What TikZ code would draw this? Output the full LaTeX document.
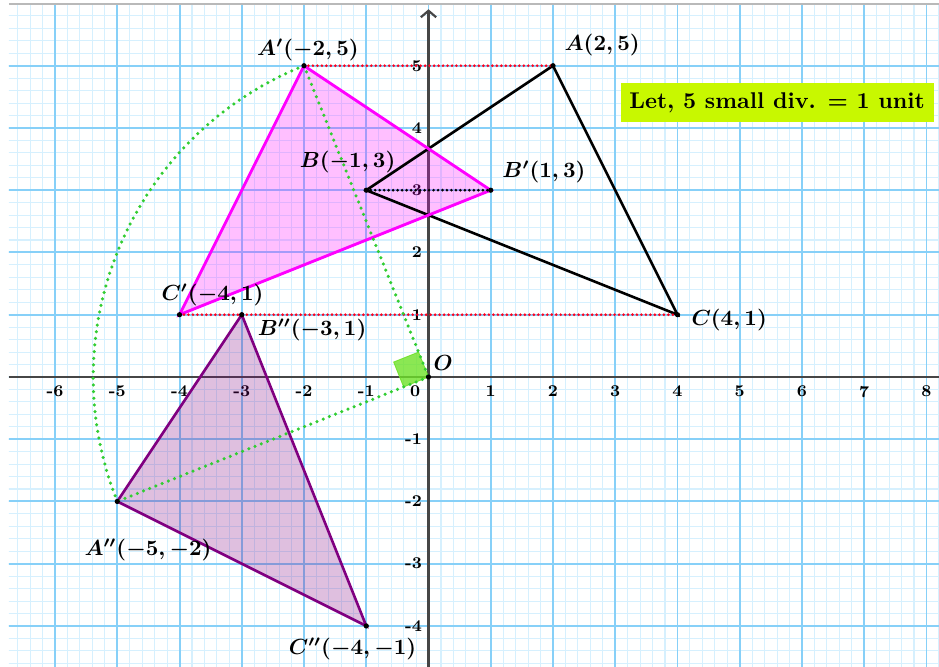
\documentclass[tikz,border=0pt]{standalone}
\usetikzlibrary{arrows.meta,calc}
\definecolor{minorc}{RGB}{214,240,254}
\definecolor{majorc}{RGB}{135,208,248}
\definecolor{axisc}{RGB}{70,70,70}
\definecolor{dotgreen}{RGB}{50,205,50}
\definecolor{sqgreen}{RGB}{110,225,40}
\definecolor{boxc}{RGB}{200,248,0}
\definecolor{dotred}{RGB}{255,0,30}
\definecolor{mymagenta}{RGB}{255,0,255}
\definecolor{mypurple}{RGB}{128,0,128}
\tikzset{
  lbl/.style={font=\fontsize{10.1}{12}\selectfont\boldmath, inner sep=0pt},
  ticklbl/.style={font=\fontsize{7.5}{8}\selectfont\bfseries, inner sep=0pt, text=black},
  dotr/.style={dotred, line width=1.35pt, line cap=round, dash pattern=on 0pt off 2.05pt},
  dotk/.style={black, line width=1.35pt, line cap=round, dash pattern=on 0pt off 2.05pt},
  dotg/.style={dotgreen, line width=1.6pt, line cap=round, dash pattern=on 0pt off 3.05pt},
  vdot/.style={fill=black},
  notebox/.style={fill=boxc, font=\fontsize{10.4}{12}\selectfont\bfseries, minimum width=5.03cm, minimum height=0.63cm, inner sep=0pt}
}
\begin{document}
\begin{tikzpicture}[x=1cm,y=1cm]
\useasboundingbox (-6.884,-4.659) rectangle (8.201,6.056);
% grid
\begin{scope}
\clip (-6.74,-4.7) rectangle (8.25,5.987);
\draw[minorc, line width=0.5pt] (-7,-5) grid[step=0.2] (8.4,6.2);
\draw[majorc, line width=0.9pt] (-7,-5) grid[step=1] (8.4,6.2);
\end{scope}
\draw[gray!55, line width=0.8pt] (-6.74,5.987) -- (8.25,5.987);
% tick labels
\foreach \i in {-6,...,-1} \node[ticklbl] at (\i,-0.235) {\i};
\foreach \i in {1,...,8} \node[ticklbl] at (\i,-0.235) {\i};
\node[ticklbl] at (-0.215,-0.225) {0};
\foreach \j in {-4,...,-1} \node[ticklbl, anchor=east] at (-0.1,\j) {\j};
\foreach \j in {1,...,5} \node[ticklbl, anchor=east] at (-0.1,\j) {\j};
% coordinates
\coordinate (O) at (0,0);
\coordinate (xL) at (-6.74,0);
\coordinate (xR) at (8.25,0);
\coordinate (yB) at (0,-4.7);
\coordinate (yT) at (0,5.907);
\coordinate (A) at (2,5);
\coordinate (B) at (-1,3);
\coordinate (C) at (4,1);
\coordinate (Ap) at (-2,5);
\coordinate (Bp) at (1,3);
\coordinate (Cp) at (-4,1);
\coordinate (App) at (-5,-2);
\coordinate (Bpp) at (-3,1);
\coordinate (Cpp) at (-1,-4);
% axes
\draw[axisc, line width=1pt] (xL) -- (xR);
\draw[axisc, line width=1pt, -{Straight Barb[length=3pt,width=7pt]}] (yB) -- (yT);
% fills
\fill[mymagenta, opacity=0.25] (Ap) -- (Bp) -- (Cp) -- cycle;
\fill[mypurple, opacity=0.25] (App) -- (Bpp) -- (Cpp) -- cycle;
% right angle marker
\filldraw[sqgreen, fill opacity=0.8, draw opacity=0.9, line width=0.4pt, rotate=111.8] (O) rectangle (0.43,0.43);
% triangles
\draw[black, line width=1.2pt] (A) -- (B) -- (C) -- cycle;
\draw[mymagenta, line width=1.3pt] (Ap) -- (Bp) -- (Cp) -- cycle;
\draw[mypurple, line width=1.2pt] (App) -- (Bpp) -- (Cpp) -- cycle;
% dotted guides
\draw[dotr] (Ap) -- (A);
\draw[dotr] (Cp) -- (C);
\draw[dotk] (B) -- (Bp);
\draw[dotg] (Ap) -- (O);
\draw[dotg] (O) -- (App);
\draw[dotg] (Ap) arc[start angle=111.8014, end angle=201.8014, radius=5.38516];
% vertex dots
\foreach \p in {A,B,C,Ap,Bp,Cp,App,Bpp,Cpp,O} \fill[vdot] (\p) circle (1.2pt);
% labels
\node[lbl] (lA) at (2.79,5.33) {$A(2,5)$};
\node[lbl] (lAp) at (-1.936,5.25) {$A'(-2,5)$};
\node[lbl] (lB) at (-1.30,3.45) {$B(-1,3)$};
\node[lbl] (lBp) at (1.855,3.29) {$B'(1,3)$};
\node[lbl] (lC) at (4.83,0.916) {$C(4,1)$};
\node[lbl] (lCp) at (-3.47,1.317) {$C'(-4,1)$};
\node[lbl] (lBpp) at (-1.87,0.755) {$B''(-3,1)$};
\node[lbl] (lApp) at (-4.506,-2.78) {$A''(-5,-2)$};
\node[lbl] (lCpp) at (-1.22,-4.37) {$C''(-4,-1)$};
\node[lbl] (lO) at (0.233,0.225) {$O$};
\node[notebox] (note) at (5.60,4.41) {Let, 5 small div. = 1 unit};
\end{tikzpicture}
\end{document}
